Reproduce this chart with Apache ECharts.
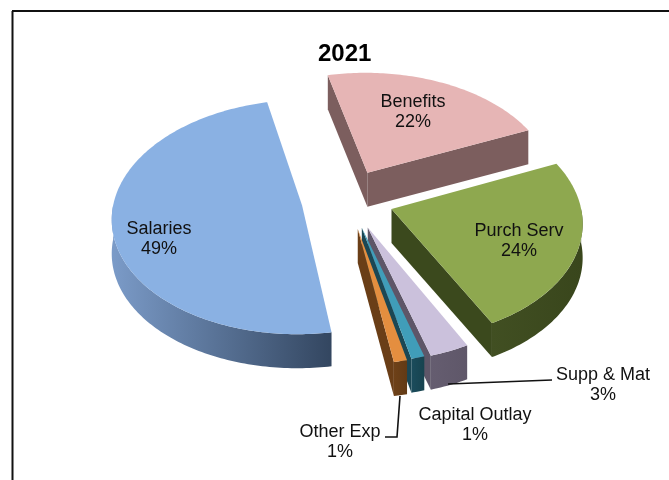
<!DOCTYPE html>
<html>
<head>
<meta charset="utf-8">
<style>html,body{margin:0;padding:0;background:#fff}#chart{width:669px;height:480px}</style>
<script src="https://cdn.jsdelivr.net/npm/echarts@6/dist/echarts.min.js"></script>
</head>
<body>
<div id="chart"></div>
<script>
// Spending shares for 2021, clockwise from the start of Benefits
const categories = ['Benefits', 'Purch Serv', 'Supp & Mat', 'Capital Outlay', 'Other Exp', 'Salaries'];
const shares = [22, 24, 3, 1, 1, 49];
const chartTitle = '2021';

// Paint order, far slices first
const paintOrder = [0, 5, 1, 2, 3, 4];

// Slice colours: top face, outer wall start, outer wall end, cut wall
const topColors = ['#E6B5B5', '#8EA84F', '#CBC1DC', '#409DB9', '#E48E3F', '#8AB1E3'];
const wallFrom = ['#7D5F5F', '#414F22', '#655D70', '#1B4C5C', '#6E4118', '#7B9BC8'];
const wallTo = ['#7D5F5F', '#39461C', '#5F5769', '#17434F', '#623A15', '#334660'];
const cutColors = ['#7C5E5E', '#3B491D', '#5E5668', '#1B4754', '#6A3E17', '#334660'];

// How far each slice is pulled out of the pie, and a small page offset
const explodeBy = [0.26, 0.26, 0.26, 0.26, 0.26, 0.232];
const pageShift = [[1, 0], [0, 0], [4, 0], [4, -1], [3, 0], [0, 1]];

// Label centres on the page
const labelSpots = [[413, 112], [519, 241], [603, 385], [475, 425], [340, 442], [159, 239]];

// Projection of the tilted pie
const view = { cx: 345, cy: 199, rx: 188, ry: 115, tilt: 0.1, depth: 34, startDeg: 347 };

function project(X, Y, drop, shift) {
  const w = 1 - view.tilt * Y;
  return [view.cx + view.rx * X / w + shift[0], view.cy + view.ry * Y / w + shift[1] + (drop || 0)];
}

function sliceRange(index) {
  let start = view.startDeg;
  for (let i = 0; i < index; i++) start += shares[i] * 3.6;
  return [start, start + shares[index] * 3.6];
}

function renderSlice(params, api) {
  const index = api.value(0);
  const [a1, a2] = sliceRange(index);
  const rad = Math.PI / 180;
  const mid = (a1 + a2) / 2 * rad;
  const e = explodeBy[index];
  const shift = pageShift[index];
  const apex = [e * Math.sin(mid), -e * Math.cos(mid)];
  const rim = (deg, drop) => project(apex[0] + Math.sin(deg * rad), apex[1] - Math.cos(deg * rad), drop, shift);
  const apexAt = drop => project(apex[0], apex[1], drop, shift);

  const topFace = [apexAt(0)];
  for (let d = a1; d < a2; d += 1) topFace.push(rim(d, 0));
  topFace.push(rim(a2, 0));

  const children = [];
  const midPt = rim((a1 + a2) / 2, 0);
  const top = apexAt(0);

  // Straight cut walls: only the ones turned towards the viewer
  [a1, a2].forEach(deg => {
    const c = rim(deg, 0);
    const ex = c[0] - top[0], ey = c[1] - top[1];
    const inner = ex * (midPt[1] - top[1]) - ey * (midPt[0] - top[0]);
    if (inner * ex < 0) {
      children.push({
        type: 'polygon',
        shape: { points: [top, c, rim(deg, view.depth), apexAt(view.depth)] },
        style: { fill: cutColors[index] }
      });
    }
  });

  // Outer wall along the near half of the rim
  for (const [lo, hi] of [[90, 270], [450, 630]]) {
    const from = Math.max(a1, lo), to = Math.min(a2, hi);
    if (from >= to) continue;
    const upper = [], lower = [];
    for (let d = from; d < to; d += 1) { upper.push(rim(d, 0)); lower.unshift(rim(d, view.depth)); }
    upper.push(rim(to, 0)); lower.unshift(rim(to, view.depth));
    children.push({
      type: 'polygon',
      shape: { points: upper.concat(lower) },
      style: {
        fill: new echarts.graphic.LinearGradient(0, 0, 1, 0, [
          { offset: 0, color: wallFrom[index] },
          { offset: 1, color: wallTo[index] }
        ])
      }
    });
  }

  children.push({ type: 'polygon', shape: { points: topFace }, style: { fill: topColors[index] } });
  return { type: 'group', children };
}

function renderLabel(params, api) {
  const index = api.value(0);
  return {
    type: 'text',
    x: labelSpots[index][0],
    y: labelSpots[index][1],
    z2: 50,
    style: {
      text: categories[index] + '\n' + shares[index] + '%',
      fontFamily: '"Liberation Sans", Arial, sans-serif',
      fontSize: 18,
      lineHeight: 20,
      fill: '#111',
      align: 'center',
      verticalAlign: 'middle'
    }
  };
}

const leaderStyle = { stroke: '#111', lineWidth: 1.6, fill: 'none' };

const chart = echarts.init(document.getElementById('chart'), null, { renderer: 'canvas' });
chart.setOption({
  animation: false,
  backgroundColor: '#fff',
  title: {
    text: chartTitle,
    left: 313,
    top: 37,
    textStyle: { fontFamily: '"Liberation Sans", Arial, sans-serif', fontSize: 24, fontWeight: 'bold', color: '#000' }
  },
  graphic: [
    { type: 'line', silent: true, shape: { x1: 12, y1: 11, x2: 669, y2: 11 }, style: { stroke: '#111', lineWidth: 2 } },
    { type: 'line', silent: true, shape: { x1: 12.5, y1: 11, x2: 12.5, y2: 480 }, style: { stroke: '#111', lineWidth: 2 } },
    { type: 'polyline', silent: true, z: 20, shape: { points: [[448, 384], [552, 380]] }, style: leaderStyle },
    { type: 'polyline', silent: true, z: 20, shape: { points: [[400, 396], [397, 437], [385, 437]] }, style: leaderStyle }
  ],
  series: [
    {
      type: 'custom',
      coordinateSystem: 'none',
      silent: true,
      data: paintOrder.map(i => [i]),
      renderItem: renderSlice
    },
    {
      type: 'custom',
      coordinateSystem: 'none',
      silent: true,
      z: 30,
      data: categories.map((c, i) => [i]),
      renderItem: renderLabel
    }
  ]
});
</script>
</body>
</html>
